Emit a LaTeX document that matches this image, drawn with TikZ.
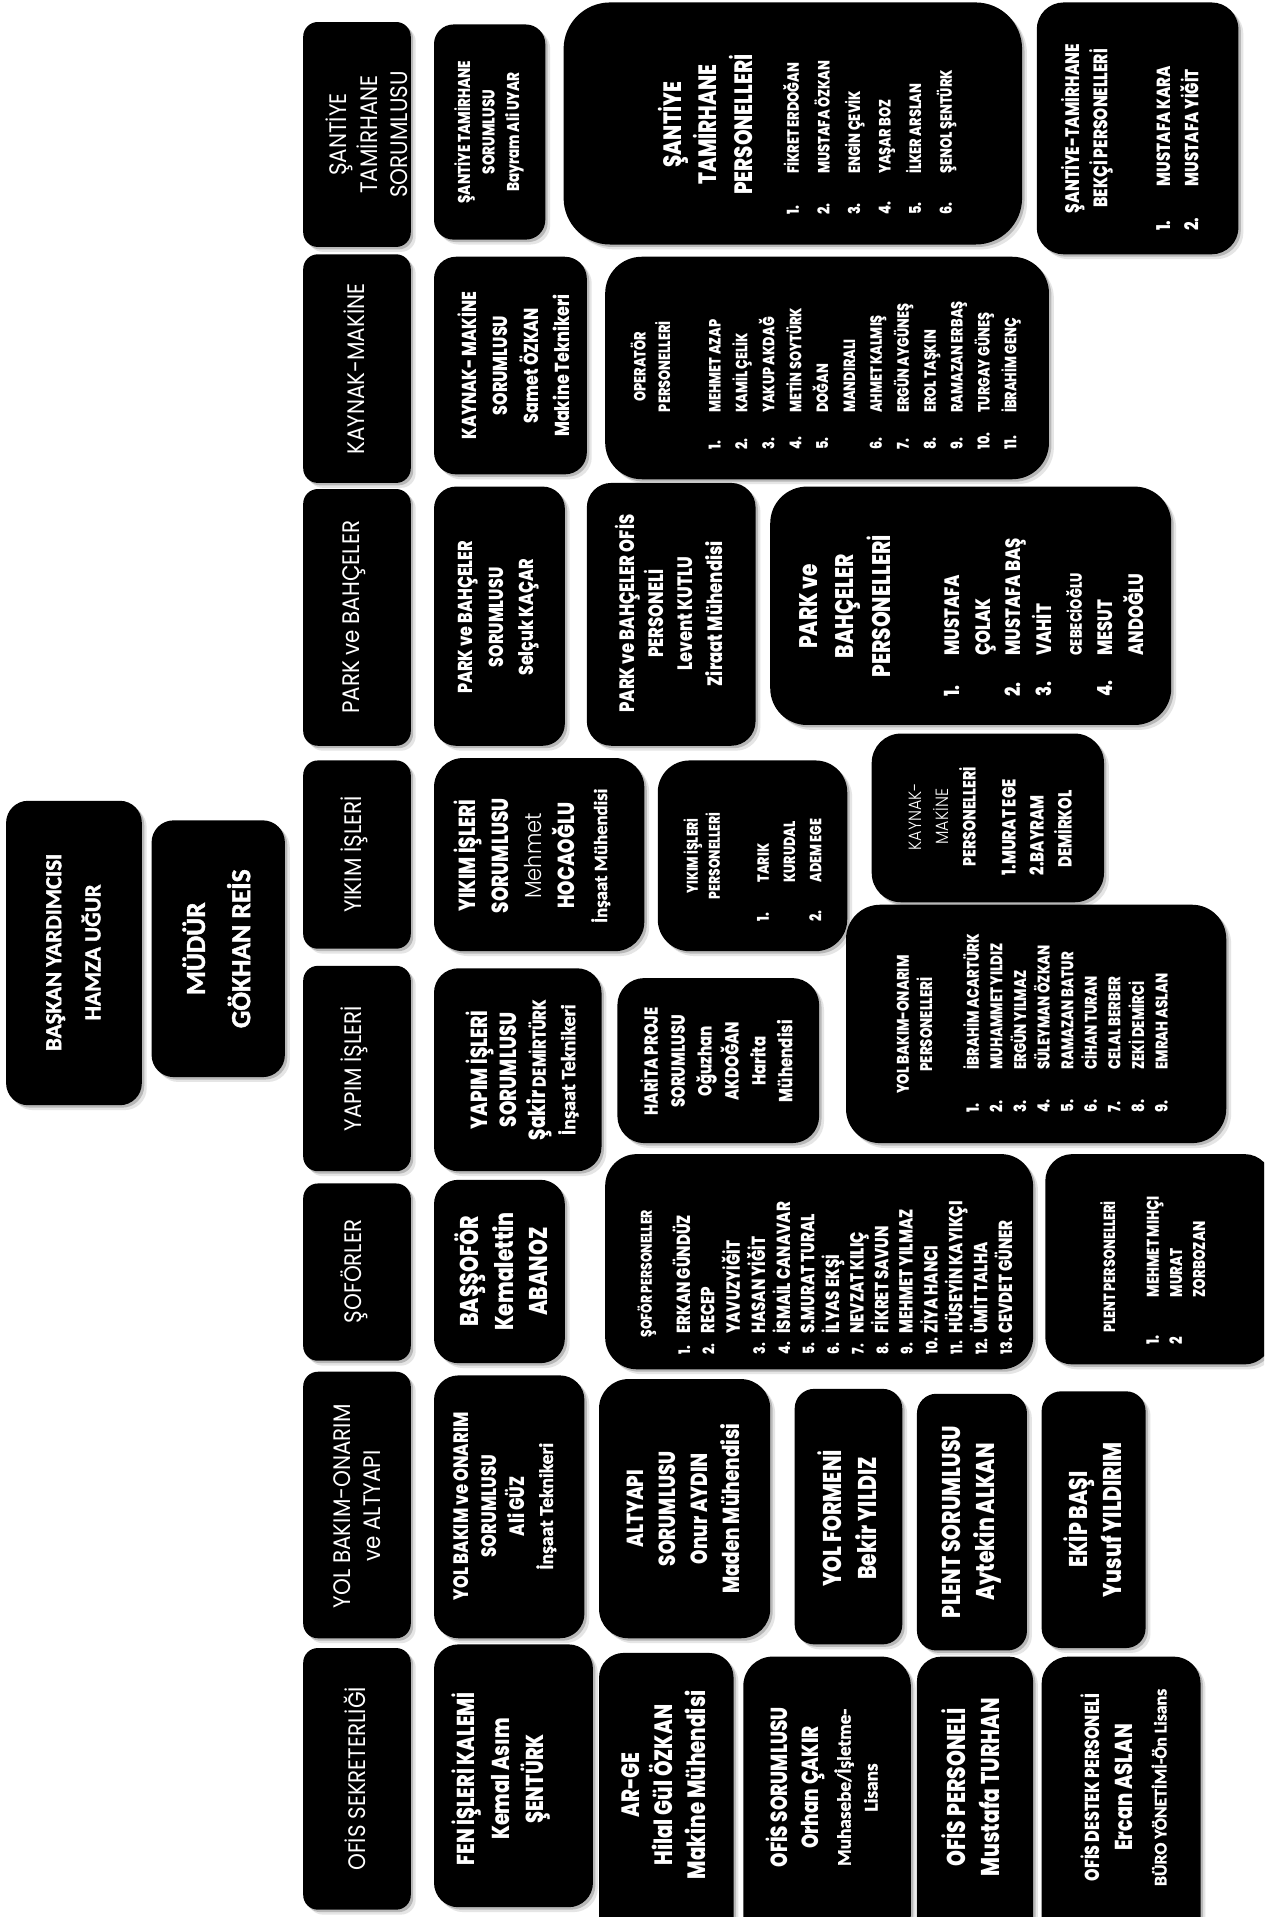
\documentclass[tikz,border=0pt]{standalone}
\usepackage{fontspec}
\IfFontExistsTF{Poppins Light}{\newfontfamily\fL{Poppins Light}[FakeStretch=0.9]}{\newfontfamily\fL{Poppins}[FakeStretch=0.9]}
\newfontfamily\fH{Poppins}[FakeStretch=0.9]
\IfFontExistsTF{Poppins ExtraBold}{\newfontfamily\fB{Poppins ExtraBold}[FakeStretch=0.79]\newcommand\bB{\fB}}{\newfontfamily\fB{Poppins}[FakeStretch=0.82]\newcommand\bB{\fB\bfseries}}
\newfontfamily\fC{Carlito}[FakeBold=1.6]
\newcommand\cB{\fC\bfseries}
\newcommand\setfs[2]{\fontsize{#1}{#2}\selectfont}
\newcommand\tb[2]{\begin{tabular}{@{}l@{\hspace{#1}}l@{}}#2\end{tabular}}
\newcommand\nm[1]{{\setfs{13}{19.9}#1}}
\newcommand\bx[5][15]{%
  \fill[black!10, rounded corners=#1pt] (#2+4,#3+4) rectangle (#4+4,#5+4);
  \fill[black!28, rounded corners=#1pt] (#2+2,#3+2) rectangle (#4+2,#5+2);
  \fill[black, rounded corners=#1pt] (#2,#3) rectangle (#4,#5);}
\tikzset{
  txt/.style={rotate=90, text=white, inner sep=0pt, align=center},
  hdr/.style={txt, font=\fH\setfs{19.5}{25}},
  lst/.style={txt, anchor=west, align=left},
}
\begin{document}
\begin{tikzpicture}[x=1pt,y=-1pt]
\useasboundingbox (0,0) rectangle (1034,1568);
\fill[white] (0,0) rectangle (1034,1568);
\clip (0,0) rectangle (1034,1568);

% ---- left column
\bx[18]{5}{655}{116}{904}
\node[txt, font=\cB\setfs{18.8}{32}] (bk) at (60,779) {BAŞKAN YARDIMCISI\\HAMZA UĞUR};
\bx[18]{124}{671}{233}{881}
\node[txt, font=\cB\setfs{22.5}{37}] (md) at (177,776) {MÜDÜR\\GÖKHAN REİS};

% ---- band 1 : santiye
\bx[12]{248}{18}{336}{202}
\node[hdr] (h1) at (300,110) {ŞANTİYE\\TAMİRHANE\\SORUMLUSU};
\bx[16]{355}{20}{446}{196}
\node[txt, font=\bB\setfs{14}{20}] (b1a) at (400,108) {ŞANTİYE TAMİRHANE\\SORUMLUSU\\Bayram Ali UYAR};
\bx[38]{461}{2}{836}{200}
\node[txt, font=\bB\setfs{20.5}{29}] (b1b) at (577,102) {ŞANTİYE\\TAMİRHANE\\PERSONELLERİ};
\node[lst, font=\bB\setfs{13.4}{25}] (l1b) at (711,176) {\tb{23pt}{1. & FİKRET ERDOĞAN\\ 2. & MUSTAFA ÖZKAN\\ 3. & ENGİN ÇEVİK\\ 4. & YAŞAR BOZ\\ 5. & İLKER ARSLAN\\ 6. & ŞENOL ŞENTÜRK}};
\bx[22]{848}{2}{1013}{208}
\node[txt, font=\bB\setfs{16}{23}] (b1c) at (889,105) {ŞANTİYE-TAMİRHANE\\BEKÇİ PERSONELLERİ};
\node[lst, font=\bB\setfs{15.5}{23}] (l1c) at (964,189) {\tb{26pt}{1. & MUSTAFA KARA\\ 2. & MUSTAFA YİĞİT}};

% ---- band 2 : kaynak-makine
\bx[12]{248}{208}{336}{395}
\node[hdr] (h2) at (290,302) {KAYNAK-MAKİNE};
\bx[18]{355}{210}{480}{388}
\node[txt, font=\bB\setfs{16.5}{25.5}] (b2a) at (420,299) {KAYNAK- MAKİNE\\SORUMLUSU\\Samet ÖZKAN\\Makine Teknikeri};
\bx[30]{495}{210}{858}{392}
\node[txt, font=\bB\setfs{13.3}{20}] (b2b) at (532,300) {OPERATÖR\\PERSONELLERİ};
\node[lst, font=\bB\setfs{13.3}{22}] (l2b) at (706,368) {\tb{16pt}{1. & MEHMET AZAP\\ 2. & KAMİL ÇELİK\\ 3. & YAKUP AKDAĞ\\ 4. & METİN SOYTÜRK\\ 5. & DOĞAN\\ & MANDIRALI\\ 6. & AHMET KALMIŞ\\ 7. & ERGÜN AYGÜNEŞ\\ 8. & EROL TAŞKIN\\ 9. & RAMAZAN ERBAŞ\\ 10. & TURGAY GÜNEŞ\\ 11. & İBRAHİM GENÇ}};

% ---- band 3 : park
\bx[12]{248}{400}{336}{610}
\node[hdr] (h3) at (290,505) {PARK ve BAHÇELER};
\bx[18]{355}{398}{462}{610}
\node[txt, font=\bB\setfs{16.5}{25}] (b3a) at (408,505) {PARK ve BAHÇELER\\SORUMLUSU\\Selçuk KAÇAR};
\bx[20]{480}{395}{618}{610}
\node[txt, font=\bB\setfs{17}{24}] (b3b) at (547,502) {PARK ve BAHÇELER OFİS\\PERSONELİ\\Levent KUTLU\\Ziraat Mühendisi};
\bx[30]{630}{398}{958}{593}
\node[txt, font=\bB\setfs{20.8}{30}] (b3c) at (691,496) {PARK ve\\BAHÇELER\\PERSONELLERİ};
\node[lst, font=\bB\setfs{17}{25}] (l3c) at (855,570) {\tb{20pt}{1. & MUSTAFA\\ & ÇOLAK\\ 2. & MUSTAFA BAŞ\\ 3. & VAHİT\\ & {\setfs{13.5}{25}CEBECİOĞLU}\\ 4. & MESUT\\ & ANDOĞLU}};

% ---- band 4 : yikim
\bx[12]{248}{622}{336}{776}
\node[hdr] (h4) at (290,699) {YIKIM İŞLERİ};
\bx[24]{355}{620}{527}{778}
\node[txt, font=\bB\setfs{19}{27}] (b4a) at (435,700) {YIKIM İŞLERİ\\SORUMLUSU\\{\fL Mehmet}\\HOCAOĞLU\\{\cB\setfs{15.3}{27}İnşaat Mühendisi}};
\bx[26]{538}{622}{693}{778}
\node[txt, font=\bB\setfs{12.7}{18}] (b4b) at (574,700) {YIKIM İŞLERİ\\PERSONELLERİ};
\node[lst, font=\bB\setfs{13.2}{21.5}] (l4b) at (646,754) {\tb{23pt}{1. & TARIK\\ & KURUDAL\\ 2. & ADEM EGE}};
\bx[24]{713}{600}{903}{738}
\node[txt, font=\fL\setfs{14.5}{22}] (b4c) at (771,668) {KAYNAK-\\MAKİNE\\{\bB PERSONELLERİ}};
\node[lst, font=\bB\setfs{15.5}{23}] (l4c) at (848,716) {1.MURAT EGE\\2.BAYRAM\\\hspace*{6pt}DEMİRKOL};

% ---- band 5 : yapim
\bx[12]{248}{790}{336}{958}
\node[hdr] (h5) at (290,874) {YAPIM İŞLERİ};
\bx[20]{355}{792}{492}{958}
\node[txt, font=\bB\setfs{19}{24}] (b5a) at (427,875) {YAPIM İŞLERİ\\SORUMLUSU\\Şakir {\setfs{15.4}{24}DEMİRTÜRK}\\{\cB\setfs{16.5}{24}İnşaat Teknikeri}};
\bx[22]{505}{800}{670}{935}
\node[txt, font=\bB\setfs{15.5}{22}] (b5b) at (586,868) {HARİTA PROJE\\SORUMLUSU\\Oğuzhan\\AKDOĞAN\\Harita\\Mühendisi};
\bx[28]{692}{740}{1003}{935}
\node[txt, font=\bB\setfs{13.8}{19}] (b5c) at (748,838) {YOL BAKIM-ONARIM\\PERSONELLERİ};
\node[lst, font=\bB\setfs{13.8}{19.3}] (l5c) at (874,910) {\tb{24pt}{1. & İBRAHİM ACARTÜRK\\ 2. & MUHAMMET YILDIZ\\ 3. & ERGÜN YILMAZ\\ 4. & SÜLEYMAN ÖZKAN\\ 5. & RAMAZAN BATUR\\ 6. & CİHAN TURAN\\ 7. & CELAL BERBER\\ 8. & ZEKİ DEMİRCİ\\ 9. & EMRAH ASLAN}};

% ---- band 6 : soforler
\bx[12]{248}{968}{336}{1113}
\node[hdr] (h6) at (290,1040) {ŞOFÖRLER};
\bx[20]{355}{965}{462}{1115}
\node[txt, font=\bB\setfs{21}{28}] (b6a) at (410,1040) {BAŞŞOFÖR\\Kemalettin\\ABANOZ};
\bx[26]{495}{944}{845}{1120}
\node[lst, font=\bB\setfs{12.7}{19}] (b6b) at (529,1094) {ŞOFÖR PERSONELLER};
\node[lst, font=\bB\setfs{15.5}{19.9}] (l6b) at (692,1108) {\tb{3pt}{\nm{1.} & ERKAN GÜNDÜZ\\ \nm{2.} & RECEP\\ & YAVUZYİĞİT\\ \nm{3.} & HASAN YİĞİT\\ \nm{4.} & İSMAİL CANAVAR\\ \nm{5.} & S.MURAT TURAL\\ \nm{6.} & İLYAS EKŞİ\\ \nm{7.} & NEVZAT KILIÇ\\ \nm{8.} & FİKRET SAVUN\\ \nm{9.} & MEHMET YILMAZ\\ \nm{10.} & ZİYA HANCI\\ \nm{11.} & HÜSEYİN KAYIKÇI\\ \nm{12.} & ÜMİT TALHA\\ \nm{13.} & CEVDET GÜNER}};
\bx[22]{855}{944}{1040}{1116}
\node[lst, font=\bB\setfs{13.2}{19}] (b6c) at (906,1090) {PLENT PERSONELLERİ};
\node[lst, font=\bB\setfs{13.9}{19}] (l6c) at (963,1100) {\tb{31pt}{1. & MEHMET MIHÇI\\ 2 & MURAT\\ & ZORBOZAN}};

% ---- band 7 : yol bakim
\bx[12]{248}{1122}{336}{1340}
\node[hdr] (h7) at (292,1232) {YOL BAKIM-ONARIM\\ve ALTYAPI};
\bx[20]{355}{1125}{478}{1340}
\node[txt, font=\bB\setfs{17}{23}] (b7a) at (413,1232) {YOL BAKIM ve ONARIM\\SORUMLUSU\\Ali GÜZ\\{\cB\setfs{16}{23}İnşaat Teknikeri}};
\bx[24]{490}{1128}{630}{1340}
\node[txt, font=\bB\setfs{19}{26}] (b7b) at (559,1234) {ALTYAPI\\SORUMLUSU\\Onur AYDIN\\Maden Mühendisi};
\bx[16]{650}{1136}{738}{1345}
\node[txt, font=\bB\setfs{21}{28}] (b7c) at (693,1242) {YOL FORMENİ\\Bekir YILDIZ};
\bx[16]{750}{1140}{840}{1350}
\node[txt, font=\bB\setfs{21}{28}] (b7d) at (795,1245) {PLENT SORUMLUSU\\Aytekin ALKAN};
\bx[16]{852}{1138}{937}{1348}
\node[txt, font=\bB\setfs{21}{28}] (b7e) at (894,1243) {EKİP BAŞI\\Yusuf YILDIRIM};

% ---- band 8 : ofis
\bx[12]{248}{1348}{336}{1562}
\node[hdr] (h8) at (290,1455) {OFİS SEKRETERLİĞİ};
\bx[20]{355}{1345}{485}{1560}
\node[txt, font=\bB\setfs{20}{28}] (b8a) at (410,1455) {FEN İŞLERİ KALEMİ\\Kemal Asım\\ŞENTÜRK};
\bx[20]{490}{1352}{600}{1590}
\node[txt, font=\bB\setfs{20.5}{27}] (b8b) at (543,1460) {AR-GE\\Hilal Gül ÖZKAN\\Makine Mühendisi};
\bx[24]{608}{1355}{745}{1590}
\node[txt, font=\bB\setfs{19}{26}] (b8c) at (672,1462) {OFİS SORUMLUSU\\Orhan ÇAKIR\\{\cB\setfs{15.7}{26}Muhasebe/İşletme-}\\[-4pt]{\cB\setfs{15.7}{26}Lisans}};
\bx[20]{750}{1355}{845}{1590}
\node[txt, font=\bB\setfs{21}{28}] (b8d) at (794,1462) {OFİS PERSONELİ\\Mustafa TURHAN};
\bx[22]{852}{1355}{982}{1590}
\node[txt, font=\bB\setfs{16.5}{27.5}] (b8e) at (919,1462) {OFİS DESTEK PERSONELİ\\{\setfs{20}{27.5}Ercan ASLAN}\\{\cB\setfs{14.5}{27.5}BÜRO YÖNETİMİ-Ön Lisans}};
\end{tikzpicture}
\end{document}
